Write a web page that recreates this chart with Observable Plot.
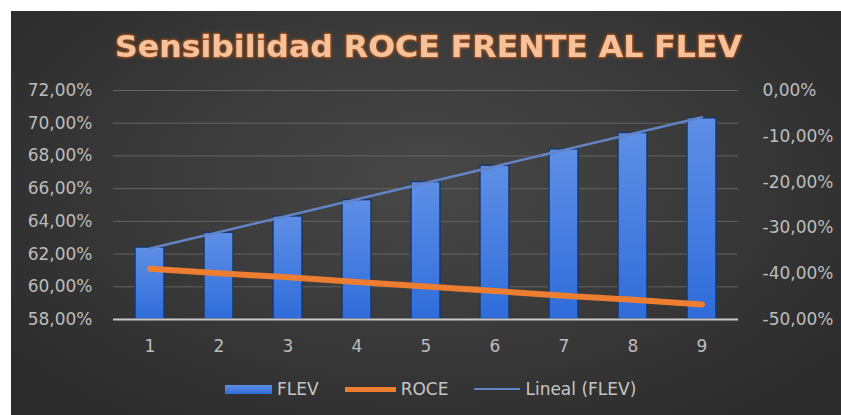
<!DOCTYPE html>
<html>
<head>
<meta charset="utf-8">
<script src="https://cdn.jsdelivr.net/npm/d3@7"></script>
<script src="https://cdn.jsdelivr.net/npm/@observablehq/plot@0.6"></script>
<style>
  html, body { margin: 0; padding: 0; background: #ffffff; }
  #frame {
    position: absolute; left: 11px; top: 11px; width: 830px; height: 404px; overflow: hidden;
    background: radial-gradient(ellipse 62% 72% at 50% 42%, #474747 0%, #3c3c3c 45%, #2c2c2c 100%);
    font-family: "DejaVu Sans", sans-serif;
  }
  #title { position: absolute; left: 0; top: 0; }
  #chart { position: absolute; left: 0; top: 59px; }
  #legend {
    position: absolute; left: 214px; top: 368px; height: 20px;
    display: flex; align-items: center; color: #c6c6c6; font-size: 17px;
  }
  .item { display: flex; align-items: center; margin-right: 26px; }
  .sw { display: inline-block; margin-right: 5px; }
</style>
</head>
<body>
<div id="frame">
  <svg id="title" width="830" height="62"></svg>
  <div id="chart"></div>
  <div id="legend"></div>
</div>
<script>
// ---- data ----
const titleText = "Sensibilidad ROCE FRENTE AL FLEV";
const categories = [1, 2, 3, 4, 5, 6, 7, 8, 9];
const flev = [62.4, 63.3, 64.3, 65.3, 66.4, 67.4, 68.4, 69.4, 70.3];   // % (left axis)
const roce = [-38.9, -39.9, -40.8, -41.8, -42.8, -43.8, -44.8, -45.7, -46.7]; // % (right axis)
const leftTicks = [58, 60, 62, 64, 66, 68, 70, 72];
const rightTicks = [0, -10, -20, -30, -40, -50];
const seriesNames = ["FLEV", "ROCE", "Lineal (FLEV)"];

// ---- helpers ----
const yDom = [d3.min(leftTicks), d3.max(leftTicks)];
const rDom = [d3.min(rightTicks), d3.max(rightTicks)];
const toLeft = r => yDom[0] + (r - rDom[0]) * (yDom[1] - yDom[0]) / (rDom[1] - rDom[0]);
const fromLeft = v => rDom[0] + (v - yDom[0]) * (rDom[1] - rDom[0]) / (yDom[1] - yDom[0]);
const fmt = v => (Math.abs(v) < 1e-9 ? 0 : v).toFixed(2).replace(".", ",") + "%";

const data = categories.map((c, i) => ({cat: c, flev: flev[i], roce: roce[i], roceL: toLeft(roce[i])}));

const colors = {flev: "#3f77de", roce: "#ED7D31", trend: "#6283c4"};

// ---- title ----
const tsvg = d3.select("#title");
tsvg.append("defs").html(`
  <filter id="glow" x="-5%" y="-30%" width="110%" height="160%">
    <feGaussianBlur in="SourceAlpha" stdDeviation="1.8" result="b"/>
    <feFlood flood-color="#c45a16" flood-opacity="0.95"/>
    <feComposite in2="b" operator="in" result="g"/>
    <feMerge><feMergeNode in="g"/><feMergeNode in="SourceGraphic"/></feMerge>
  </filter>`);
tsvg.append("text")
  .attr("x", 417.5).attr("y", 46)
  .attr("text-anchor", "middle")
  .attr("textLength", 627).attr("lengthAdjust", "spacingAndGlyphs")
  .attr("font-family", "DejaVu Sans").attr("font-weight", "bold").attr("font-size", 31)
  .attr("fill", "#f6c29c").attr("stroke", "#a9531c").attr("stroke-width", 1)
  .attr("paint-order", "stroke").attr("filter", "url(#glow)")
  .text(titleText);

// ---- chart ----
const plot = Plot.plot({
  width: 830, height: 290,
  marginTop: 20, marginBottom: 41, marginLeft: 102, marginRight: 103,
  style: {background: "transparent", color: "#bdbdbd", fontFamily: "DejaVu Sans", fontSize: "17px", overflow: "visible"},
  x: {type: "band", domain: categories, paddingInner: 0.58, paddingOuter: 0.3, label: null},
  y: {domain: yDom, label: null},
  marks: [
    Plot.gridY(leftTicks, {stroke: "#646464", strokeOpacity: 1, strokeWidth: 1}),
    Plot.axisY(leftTicks, {anchor: "left", tickSize: 0, tickPadding: 21, tickFormat: fmt, label: null}),
    Plot.axisY(rightTicks.map(toLeft), {anchor: "right", tickSize: 0, tickPadding: 24, tickFormat: v => fmt(fromLeft(v)), label: null}),
    Plot.barY(data, {x: "cat", y1: () => yDom[0], y2: "flev", fill: "url(#barGrad)", stroke: "#1d3767", strokeWidth: 1.5}),
    Plot.ruleY([yDom[0]], {stroke: "#c9c9c9", strokeWidth: 2}),
    Plot.linearRegressionY(data, {x: "cat", y: "flev", ci: 0, stroke: colors.trend, strokeWidth: 2.5}),
    Plot.line(data, {x: "cat", y: "roceL", stroke: colors.roce, strokeWidth: 6, strokeLinecap: "round"}),
    Plot.axisX({anchor: "bottom", tickSize: 0, tickPadding: 20, label: null})
  ]
});
const ns = "http://www.w3.org/2000/svg";
const defs = document.createElementNS(ns, "defs");
defs.innerHTML = `<linearGradient id="barGrad" x1="0" y1="0" x2="0" y2="1">
  <stop offset="0" stop-color="#5e8fe6"/><stop offset="1" stop-color="#2f6cda"/></linearGradient>`;
plot.prepend(defs);
document.getElementById("chart").appendChild(plot);

// ---- legend ----
const swatches = [
  {w: 47, h: 9, bg: "linear-gradient(#5e8fe6,#2f6cda)"},
  {w: 51, h: 5, bg: colors.roce},
  {w: 46, h: 2.5, bg: colors.trend}
];
const legend = d3.select("#legend");
seriesNames.forEach((name, i) => {
  const it = legend.append("div").attr("class", "item");
  it.append("span").attr("class", "sw")
    .style("width", swatches[i].w + "px").style("height", swatches[i].h + "px").style("background", swatches[i].bg);
  it.append("span").text(name);
});
</script>
</body>
</html>
